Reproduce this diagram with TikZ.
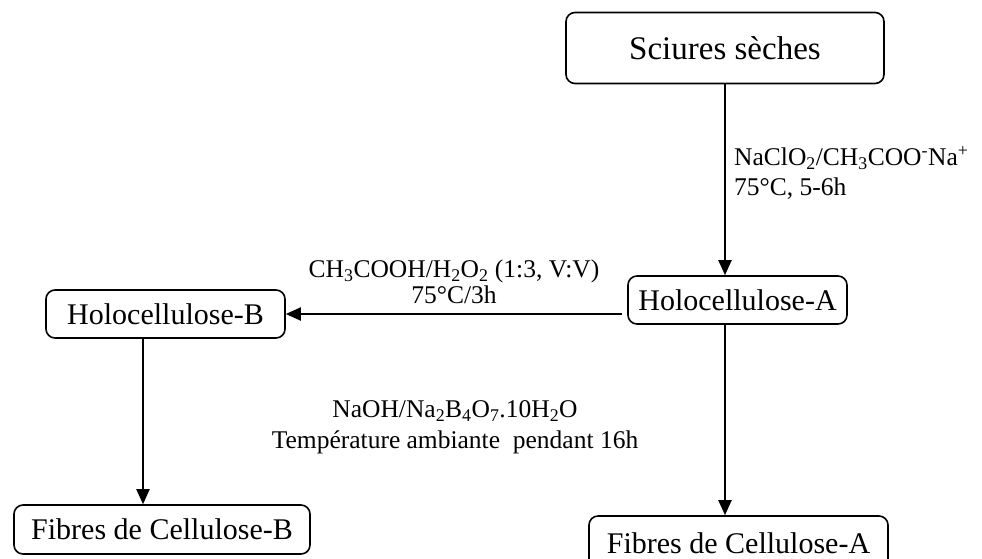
\documentclass[tikz,border=0pt]{standalone}
\usepackage{fontspec}
\setmainfont{Liberation Serif}
\usetikzlibrary{arrows.meta}
\begin{document}
\begin{tikzpicture}[x=1pt,y=-1pt,
  box/.style={draw, line width=1.6pt, rounded corners=9pt, inner sep=0pt,
    font=\fontsize{30}{36}\selectfont},
  arr/.style={line width=2pt, -{Triangle[length=15pt,width=13pt]}},
  lab/.style={font=\fontsize{25.5}{30}\selectfont, inner sep=0pt}]
\useasboundingbox (0,0) rectangle (982,558);
\clip (0,0) rectangle (982,558);
\node[box, minimum width=318pt, minimum height=71pt,
  font=\fontsize{33}{40}\selectfont] (sciures) at (725,48) {\raisebox{-5pt}{Sciures sèches}};
\node[box, minimum width=219pt, minimum height=48pt] (holoA) at (737.5,300) {\raisebox{-3pt}{Holocellulose-A}};
\node[box, minimum width=239pt, minimum height=48pt] (holoB) at (165.5,314) {\raisebox{-3pt}{Holocellulose-B}};
\node[box, minimum width=296pt, minimum height=49pt] (fibB) at (162,529.5) {\raisebox{-4pt}{Fibres de Cellulose-B}};
\node[box, minimum width=299pt, minimum height=56pt] (fibA) at (738.5,544) {\raisebox{1.5pt}{Fibres de Cellulose-A}};

\node[lab, anchor=west, align=left] (l1) at (734,173)
  {NaClO\textsubscript{2}/CH\textsubscript{3}COO\textsuperscript{-}Na\textsuperscript{+}\\75°C, 5-6h};
\node[lab, align=center, font=\fontsize{25.5}{26}\selectfont] (l2) at (454,282)
  {CH\textsubscript{3}COOH/H\textsubscript{2}O\textsubscript{2} (1:3, V:V)\\75°C/3h};
\node[lab, align=center, font=\fontsize{25.5}{31}\selectfont] (l3) at (455,427.5)
  {NaOH/Na\textsubscript{2}B\textsubscript{4}O\textsubscript{7}.10H\textsubscript{2}O\\Température ambiante\ \ pendant 16h};

\draw[arr] (sciures.south) -- (sciures.south |- holoA.north);
\draw[arr] (sciures.south |- holoA.south) -- (sciures.south |- fibA.north);
\draw[arr] ([xshift=-5pt]holoA.west |- holoB.east) -- (holoB.east);
\draw[arr] ([xshift=-22.5pt]holoB.south) -- ([xshift=-22.5pt]holoB.south |- fibB.north);
\end{tikzpicture}
\end{document}
